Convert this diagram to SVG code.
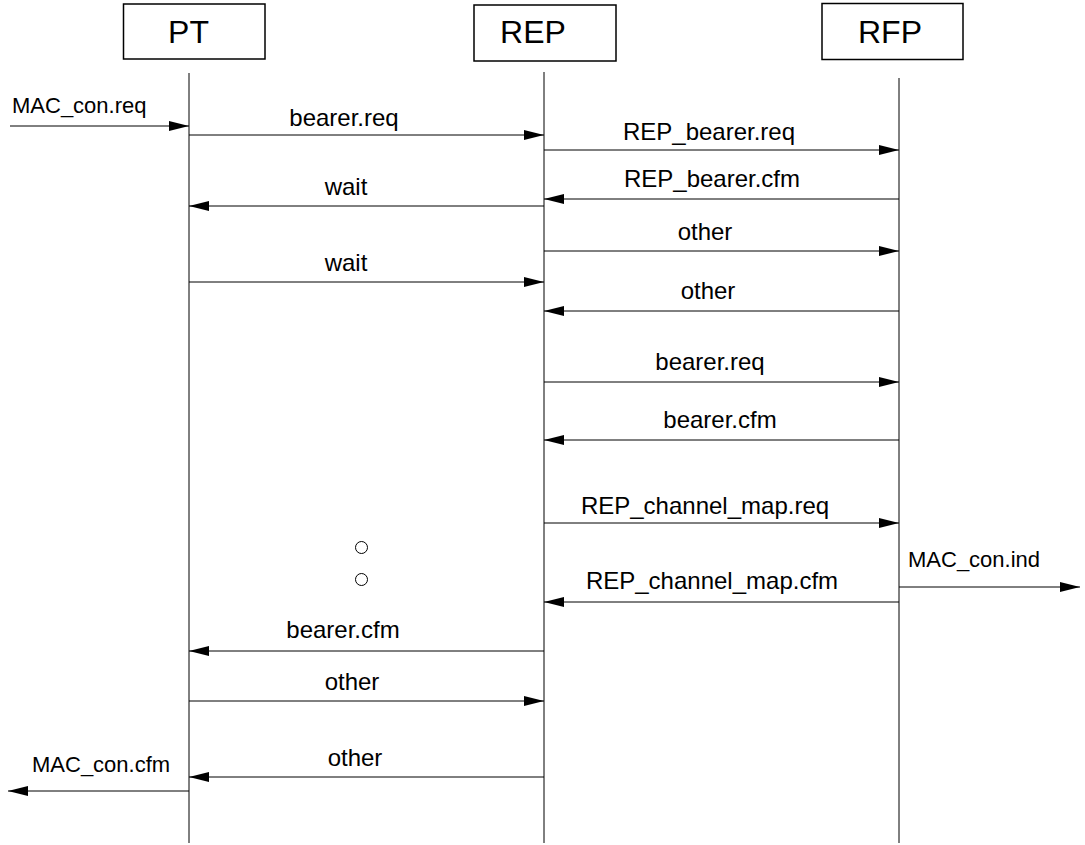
<svg xmlns="http://www.w3.org/2000/svg" width="1085" height="845" viewBox="0 0 1085 845">
<style>
.box{fill:#fff;stroke:#000;stroke-width:1.5}
.title{font-family:"Liberation Sans",Arial,sans-serif;font-size:32px;fill:#000;text-anchor:middle}
.life{stroke:#000;stroke-width:1}
.msg{stroke:#000;stroke-width:1;fill:none;marker-end:url(#ah)}
.lbl{font-family:"Liberation Sans",Arial,sans-serif;font-size:24px;fill:#000;text-anchor:middle}
.ext{font-family:"Liberation Sans",Arial,sans-serif;font-size:22px;fill:#000}
.dot{fill:#fff;stroke:#000;stroke-width:1}
</style>
<defs>
<marker id="ah" markerUnits="userSpaceOnUse" markerWidth="20" markerHeight="10" viewBox="0 0 20 10" refX="20" refY="5" orient="auto">
<path d="M0,0 L20,5 L0,10 z" fill="#000"/>
</marker>
</defs>
<rect width="1085" height="845" fill="#fff"/>
<g id="PT">
<rect class="box" x="123.5" y="4" width="141.5" height="55"/>
<text class="title" x="188.5" y="43">PT</text>
<line class="life" x1="189" y1="73" x2="189" y2="843"/>
</g>
<g id="REP">
<rect class="box" x="474" y="5" width="142" height="56"/>
<text class="title" x="533" y="43">REP</text>
<line class="life" x1="544" y1="72" x2="544" y2="843"/>
</g>
<g id="RFP">
<rect class="box" x="822" y="3.5" width="141" height="56"/>
<text class="title" x="890" y="43">RFP</text>
<line class="life" x1="899" y1="78" x2="899" y2="843"/>
</g>
<g id="connectors">
<line class="msg" x1="10" y1="126" x2="189" y2="126"/>
<text class="ext" x="12" y="113">MAC_con.req</text>
<line class="msg" x1="189" y1="135" x2="544" y2="135"/>
<text class="lbl" x="344" y="126">bearer.req</text>
<line class="msg" x1="544" y1="150" x2="899" y2="150"/>
<text class="lbl" x="709" y="140">REP_bearer.req</text>
<line class="msg" x1="899" y1="199" x2="544" y2="199"/>
<text class="lbl" x="712" y="187">REP_bearer.cfm</text>
<line class="msg" x1="544" y1="206" x2="189" y2="206"/>
<text class="lbl" x="346" y="195">wait</text>
<line class="msg" x1="544" y1="251" x2="899" y2="251"/>
<text class="lbl" x="705" y="240">other</text>
<line class="msg" x1="189" y1="282" x2="544" y2="282"/>
<text class="lbl" x="346" y="271">wait</text>
<line class="msg" x1="899" y1="311" x2="544" y2="311"/>
<text class="lbl" x="708" y="299">other</text>
<line class="msg" x1="544" y1="382" x2="899" y2="382"/>
<text class="lbl" x="710" y="370">bearer.req</text>
<line class="msg" x1="899" y1="440" x2="544" y2="440"/>
<text class="lbl" x="720" y="428">bearer.cfm</text>
<line class="msg" x1="544" y1="523" x2="899" y2="523"/>
<text class="lbl" x="705" y="514">REP_channel_map.req</text>
<line class="msg" x1="899" y1="602" x2="544" y2="602"/>
<text class="lbl" x="712" y="589">REP_channel_map.cfm</text>
<line class="msg" x1="899" y1="587" x2="1080" y2="587"/>
<text class="ext" x="908" y="567">MAC_con.ind</text>
<line class="msg" x1="544" y1="651" x2="189" y2="651"/>
<text class="lbl" x="343" y="638">bearer.cfm</text>
<line class="msg" x1="189" y1="701" x2="544" y2="701"/>
<text class="lbl" x="352" y="690">other</text>
<line class="msg" x1="544" y1="777" x2="189" y2="777"/>
<text class="lbl" x="355" y="766">other</text>
<line class="msg" x1="189" y1="791" x2="8" y2="791"/>
<text class="ext" x="32" y="772">MAC_con.cfm</text>
</g>
<g id="ellipsis">
<circle class="dot" cx="361.5" cy="547.5" r="6"/>
<circle class="dot" cx="361.5" cy="579.5" r="6"/>
</g>
</svg>
